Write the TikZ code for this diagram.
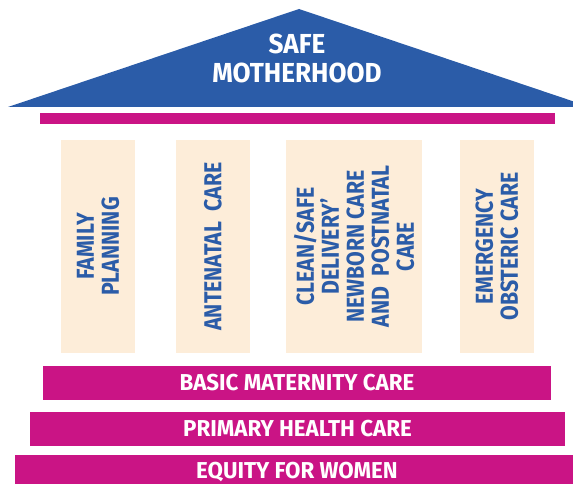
\documentclass[tikz,border=0pt]{standalone}
\usepackage{fontspec}
\setmainfont{Fira Sans}
\newfontfamily\titlefont[FakeStretch=0.95]{Fira Sans}
\newfontfamily\pillarfont[FakeStretch=0.87]{Fira Sans}
\newfontfamily\barfont[FakeStretch=0.97]{Fira Sans}
\definecolor{roofblue}{RGB}{43,92,168}
\definecolor{barmag}{RGB}{202,20,133}
\definecolor{pillarbg}{RGB}{253,237,217}
\tikzset{
  pillar/.style={fill=pillarbg, draw=none, rotate=90, inner sep=0pt,
    minimum width=213pt, align=center, text=roofblue,
    font=\pillarfont\bfseries\fontsize{24.5}{25}\selectfont},
  basebar/.style={fill=barmag, draw=none, inner sep=0pt, text=white,
    text height=15.8pt, text depth=0pt, minimum height=34pt,
    font=\barfont\bfseries\fontsize{23}{25}\selectfont},
}
\begin{document}
\begin{tikzpicture}[x=1pt, y=-1pt]
\useasboundingbox (0,0) rectangle (573,484);
% roof
\fill[roofblue] (8,107) -- (299,9) -- (590,107) -- cycle;
\node[text=white, align=center, inner sep=0pt,
  font=\titlefont\bfseries\fontsize{27.5}{29}\selectfont] (title) at (297,58.5) {SAFE\\MOTHERHOOD};
% architrave
\fill[barmag] (40,113) rectangle (555,124);
% pillars
\node[pillar, minimum height=74pt] (fp) at (98,246.5) {FAMILY\\PLANNING};
\node[pillar, minimum height=74pt] (ac) at (213,246.5) {ANTENATAL\ \ CARE};
\node[pillar, minimum height=136pt] (cd) at (354,246.5) {CLEAN/SAFE\\DELIVERY’\\NEWBORN CARE\\AND\ \ POSTNATAL\\CARE};
\node[pillar, minimum height=74pt] (ec) at (497,246.5) {EMERGENCY\\OBSTERIC CARE};
% base steps
\node[basebar, minimum width=508pt] (bmc) at (297,383) {BASIC MATERNITY CARE};
\node[basebar, minimum width=535pt] (phc) at (297.5,429) {PRIMARY HEALTH CARE};
\node[basebar, minimum width=564pt, minimum height=29.5pt, text height=18pt] (efw) at (297,469.6) {EQUITY FOR WOMEN};
\end{tikzpicture}
\end{document}
